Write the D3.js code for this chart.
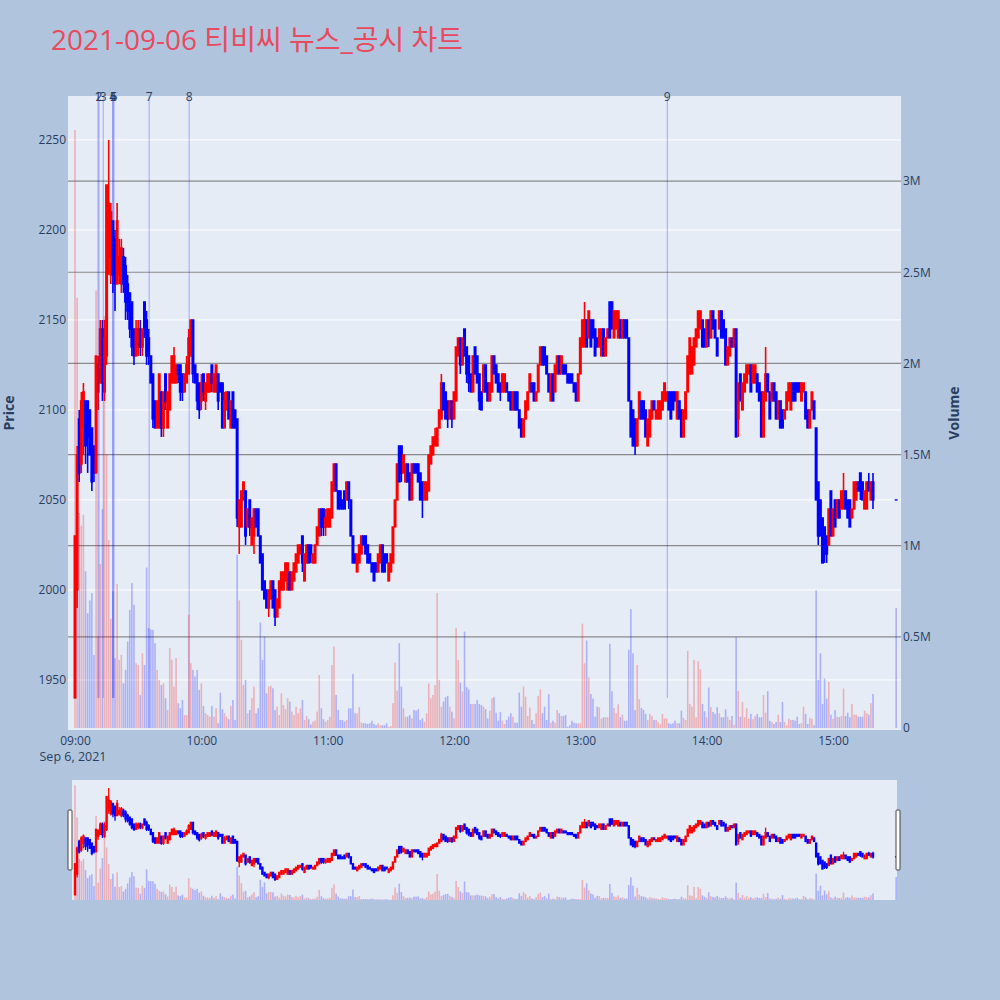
<!DOCTYPE html>
<html lang="ko">
<head>
<meta charset="UTF-8">
<title>티비씨 뉴스_공시 차트</title>
<script src="https://cdn.jsdelivr.net/npm/d3@7"></script>
<style>
  body { margin: 0; background: #b0c4de; }
  svg text { font-family: "Open Sans", "Noto Sans CJK KR", sans-serif; }
</style>
</head>
<body>
<div id="chart"></div>
<script>
// one-minute candles from 09:00 to 15:19, price in won
const opens = [
1940,2000,2095,2070,2090,2105,2105,2100,2090,2080,
2065,2110,2115,2145,2110,2130,2185,2175,2205,2195,
2170,2175,2170,2185,2180,2170,2165,2160,2145,2130,
2135,2145,2135,2160,2150,2140,2130,2120,2105,2090,
2090,2110,2090,2120,2090,2100,2115,2115,2115,2125,
2125,2120,2110,2115,2120,2130,2150,2125,2120,2115,
2105,2120,2105,2110,2110,2125,2110,2110,2120,2115,
2115,2090,2100,2110,2090,2110,2100,2095,2035,2035,
2050,2055,2035,2050,2025,2030,2045,2045,2030,2020,
2005,2000,1990,1995,2005,2000,1985,1990,2000,2000,
2005,2000,2010,2000,2005,2010,2015,2020,2030,2005,
2015,2025,2025,2015,2015,2025,2030,2045,2045,2035,
2035,2035,2040,2055,2070,2055,2055,2050,2055,2050,
2060,2050,2030,2020,2010,2015,2020,2030,2030,2025,
2020,2015,2015,2015,2010,2015,2025,2020,2020,2005,
2010,2015,2035,2050,2080,2080,2065,2060,2070,2065,
2050,2070,2070,2070,2065,2060,2050,2050,2055,2070,
2075,2080,2080,2090,2095,2115,2110,2105,2095,2105,
2095,2105,2130,2140,2125,2145,2135,2130,2120,2110,
2135,2130,2120,2110,2110,2125,2115,2105,2110,2130,
2125,2120,2115,2110,2110,2115,2110,2110,2100,2110,
2110,2100,2095,2085,2095,2100,2110,2115,2115,2105,
2110,2125,2135,2135,2130,2120,2105,2120,2110,2120,
2130,2120,2125,2125,2120,2120,2120,2115,2115,2105,
2120,2135,2135,2150,2140,2150,2150,2145,2140,2135,
2130,2145,2130,2140,2160,2160,2140,2145,2140,2150,
2140,2150,2150,2140,2105,2100,2095,2080,2095,2105,
2105,2100,2080,2085,2095,2105,2095,2095,2095,2100,
2105,2105,2110,2110,2110,2110,2095,2105,2100,2085,
2095,2110,2120,2120,2125,2135,2140,2145,2150,2145,
2135,2150,2140,2155,2150,2140,2145,2155,2150,2145,
2125,2130,2140,2135,2145,2095,2120,2100,2110,2115,
2120,2125,2115,2115,2120,2115,2110,2085,2105,2120,
2110,2105,2115,2110,2095,2105,2100,2095,2100,2105,
2100,2115,2115,2115,2115,2105,2110,2110,2100,2090,
2100,2105,2090,2060,2050,2040,2035,2030,2025,2055,
2030,2050,2040,2050,2045,2045,2055,2050,2050,2040,
2045,2050,2060,2065,2060,2045,2045,2060,2050,2060];
const highs = [
2030,2080,2100,2110,2115,2105,2105,2100,2090,2080,
2130,2130,2150,2150,2150,2225,2250,2215,2205,2200,
2215,2195,2195,2190,2185,2175,2165,2160,2145,2150,
2150,2150,2145,2160,2155,2145,2130,2120,2105,2105,
2120,2110,2110,2120,2110,2120,2130,2135,2125,2125,
2125,2120,2120,2130,2145,2150,2150,2125,2120,2115,
2120,2120,2115,2120,2120,2125,2120,2125,2120,2115,
2115,2110,2110,2110,2105,2110,2100,2095,2050,2055,
2060,2055,2045,2050,2040,2045,2045,2045,2030,2020,
2005,2000,2000,2005,2005,2000,1995,2005,2010,2010,
2015,2015,2010,2010,2015,2020,2025,2025,2030,2020,
2025,2025,2025,2020,2025,2035,2045,2045,2045,2045,
2045,2045,2060,2070,2070,2055,2055,2050,2055,2060,
2060,2050,2030,2020,2020,2025,2030,2030,2030,2025,
2020,2015,2015,2015,2020,2025,2025,2020,2020,2015,
2020,2035,2050,2070,2080,2080,2075,2070,2070,2065,
2070,2070,2070,2070,2065,2060,2060,2060,2075,2080,
2085,2090,2090,2100,2120,2115,2110,2105,2105,2105,
2110,2135,2140,2140,2140,2145,2135,2130,2120,2130,
2135,2130,2120,2110,2125,2125,2115,2115,2130,2130,
2125,2120,2115,2120,2120,2115,2110,2110,2110,2110,
2110,2100,2095,2095,2105,2110,2120,2115,2115,2110,
2125,2135,2135,2135,2130,2120,2120,2120,2125,2130,
2130,2130,2125,2125,2120,2120,2120,2115,2115,2120,
2140,2150,2160,2150,2155,2150,2150,2145,2140,2145,
2145,2145,2140,2145,2160,2160,2155,2155,2155,2150,
2150,2150,2150,2140,2105,2100,2095,2095,2110,2105,
2105,2100,2095,2100,2105,2105,2100,2105,2105,2110,
2115,2110,2110,2110,2110,2110,2110,2105,2100,2100,
2110,2130,2140,2135,2140,2145,2155,2155,2150,2145,
2150,2150,2155,2155,2150,2140,2155,2155,2150,2145,
2135,2140,2140,2145,2145,2115,2120,2115,2120,2125,
2125,2125,2125,2125,2120,2115,2110,2110,2135,2120,
2110,2115,2115,2110,2105,2105,2100,2100,2110,2115,
2115,2115,2115,2115,2115,2115,2115,2110,2100,2100,
2110,2105,2090,2060,2050,2040,2035,2030,2045,2055,
2045,2050,2050,2050,2055,2065,2055,2050,2050,2045,
2060,2060,2060,2065,2060,2055,2060,2065,2060,2065];
const lows = [
1940,1990,2060,2065,2075,2070,2065,2075,2055,2060,
2065,2100,2115,2105,2105,2125,2175,2170,2165,2155,
2170,2170,2165,2165,2150,2150,2140,2130,2125,2130,
2130,2130,2130,2140,2125,2125,2115,2090,2090,2090,
2090,2085,2085,2100,2090,2100,2115,2115,2115,2115,
2105,2105,2110,2115,2120,2130,2115,2115,2100,2095,
2100,2105,2100,2110,2110,2110,2110,2110,2100,2110,
2090,2090,2100,2095,2090,2090,2090,2035,2020,2035,
2050,2025,2035,2030,2025,2020,2035,2030,2015,2000,
1995,1990,1985,1995,1990,1980,1985,1990,2000,2000,
2005,2000,2000,2000,2005,2010,2015,2020,2010,2005,
2015,2015,2015,2015,2015,2025,2030,2030,2030,2030,
2035,2035,2040,2055,2055,2045,2045,2045,2045,2050,
2045,2030,2015,2015,2010,2015,2020,2025,2020,2015,
2015,2010,2005,2010,2010,2015,2010,2010,2015,2005,
2010,2015,2035,2050,2060,2060,2065,2060,2060,2050,
2050,2065,2065,2060,2050,2040,2050,2050,2055,2070,
2075,2080,2080,2090,2095,2100,2095,2090,2095,2090,
2095,2105,2130,2120,2125,2130,2115,2110,2110,2110,
2120,2115,2100,2100,2110,2110,2105,2105,2110,2120,
2115,2110,2105,2110,2110,2110,2105,2100,2100,2100,
2100,2090,2085,2085,2095,2100,2110,2110,2105,2105,
2110,2125,2125,2125,2120,2110,2105,2105,2110,2120,
2120,2120,2120,2120,2115,2115,2115,2110,2105,2105,
2120,2135,2135,2135,2140,2135,2140,2130,2135,2135,
2130,2130,2130,2140,2140,2145,2140,2145,2140,2140,
2140,2140,2140,2105,2085,2080,2075,2080,2095,2095,
2095,2085,2080,2085,2095,2100,2095,2095,2095,2100,
2105,2105,2100,2095,2100,2105,2095,2095,2085,2085,
2095,2110,2120,2120,2125,2135,2140,2145,2135,2135,
2135,2135,2140,2145,2140,2130,2145,2140,2140,2125,
2125,2130,2135,2135,2085,2085,2105,2100,2110,2115,
2120,2110,2115,2115,2110,2105,2085,2085,2105,2110,
2095,2105,2105,2095,2095,2090,2090,2095,2100,2105,
2100,2105,2105,2110,2110,2105,2110,2095,2090,2090,
2100,2095,2050,2025,2030,2015,2015,2015,2025,2030,
2030,2035,2040,2040,2045,2045,2045,2040,2035,2040,
2045,2050,2055,2050,2050,2045,2045,2055,2050,2045];
const closes = [
2030,2075,2065,2105,2110,2080,2085,2075,2060,2065,
2130,2125,2145,2115,2140,2225,2215,2210,2175,2170,
2205,2185,2190,2170,2160,2155,2145,2135,2130,2145,
2145,2135,2145,2145,2130,2130,2115,2095,2090,2105,
2120,2090,2110,2105,2110,2120,2130,2130,2125,2120,
2110,2110,2120,2125,2140,2150,2120,2115,2105,2100,
2115,2110,2115,2120,2120,2115,2120,2125,2105,2110,
2090,2105,2110,2095,2105,2090,2090,2040,2050,2055,
2060,2030,2045,2035,2040,2045,2035,2030,2015,2000,
1995,1990,2000,2005,1990,1985,1995,2005,2010,2010,
2015,2015,2000,2010,2015,2020,2025,2025,2015,2020,
2025,2015,2020,2020,2025,2035,2045,2035,2035,2040,
2045,2045,2060,2070,2055,2045,2045,2045,2045,2060,
2050,2030,2015,2015,2020,2025,2030,2025,2020,2015,
2015,2010,2005,2010,2020,2025,2010,2010,2015,2015,
2020,2035,2050,2070,2060,2065,2075,2070,2060,2050,
2070,2065,2065,2060,2050,2050,2060,2060,2075,2080,
2085,2085,2090,2100,2115,2100,2095,2095,2105,2095,
2110,2135,2140,2125,2140,2130,2120,2115,2110,2130,
2120,2115,2105,2100,2125,2110,2105,2115,2130,2120,
2115,2110,2110,2120,2120,2110,2105,2100,2110,2100,
2100,2090,2085,2095,2105,2110,2120,2110,2105,2110,
2125,2135,2125,2125,2120,2110,2120,2105,2125,2130,
2120,2130,2120,2120,2115,2115,2115,2110,2105,2120,
2140,2150,2150,2135,2155,2135,2140,2130,2135,2145,
2145,2130,2140,2145,2140,2145,2155,2155,2155,2140,
2150,2140,2140,2105,2085,2080,2080,2095,2110,2095,
2095,2085,2095,2100,2105,2100,2100,2105,2105,2110,
2115,2110,2100,2095,2100,2105,2110,2095,2085,2100,
2110,2130,2140,2135,2140,2145,2155,2155,2135,2135,
2150,2140,2155,2145,2140,2130,2155,2140,2140,2125,
2135,2140,2135,2145,2085,2115,2105,2115,2120,2125,
2125,2110,2125,2125,2110,2105,2085,2110,2120,2110,
2095,2115,2105,2095,2105,2090,2090,2100,2110,2115,
2115,2105,2105,2110,2110,2115,2115,2095,2090,2100,
2110,2095,2050,2030,2030,2015,2020,2020,2045,2030,
2045,2035,2050,2040,2055,2055,2045,2040,2035,2045,
2060,2060,2055,2055,2050,2055,2060,2055,2060,2050];
// traded volume per minute, thousands of shares
const volumes = [
3280,2360,1180,1110,1170,860,630,700,740,400,
2400,500,900,1200,2260,1500,1030,600,750,383,
790,374,401,245,319,474,648,795,676,355,
346,181,410,346,880,548,540,539,465,319,
264,236,245,163,99,438,374,227,383,136,
108,154,71,71,621,355,319,282,319,209,
245,121,81,71,62,121,62,108,26,194,
103,81,62,48,121,154,44,950,700,484,
236,264,81,99,163,227,81,108,579,374,
502,190,227,231,218,99,117,71,190,126,
103,163,145,90,70,117,81,108,154,44,
66,48,20,35,40,90,291,108,48,35,
44,62,346,447,181,99,44,44,35,44,
108,108,297,81,81,114,29,26,26,22,
26,40,22,15,26,15,15,15,26,7,
11,136,359,205,465,227,108,62,62,71,
53,99,95,103,44,53,35,81,245,163,
181,236,740,264,117,145,169,176,117,90,
53,548,374,249,200,529,224,212,132,132,
132,154,132,126,117,103,53,95,163,169,
84,40,88,40,22,44,62,81,62,29,
29,194,117,227,172,66,112,44,22,81,
176,212,81,117,44,185,29,40,29,99,
81,66,66,71,7,15,40,29,26,26,
26,572,355,480,278,187,161,62,117,114,
51,59,59,59,462,202,110,81,130,59,
73,40,40,429,652,410,99,346,158,110,
99,77,44,77,66,44,44,31,22,77,
53,53,26,22,26,40,26,26,95,55,
44,423,132,117,374,59,366,322,132,92,
59,222,114,88,77,114,81,59,59,103,
62,44,66,18,498,203,62,143,59,108,
51,77,48,66,77,59,59,181,84,202,
40,33,22,33,73,33,143,33,15,51,
44,44,40,62,22,26,117,77,22,55,
51,15,755,264,410,132,271,161,253,73,
51,99,62,59,66,216,66,84,59,132,
73,73,62,62,62,95,81,73,136,187];
// closing single-price auction
const closingTime = "15:30";
const closingPrice = 2050;
const closingVolume = 658;

// news / disclosure markers
const newsLabels = ["1", "2", "3", "4", "5", "6", "7", "8", "9"];
const newsTimes = ["09:10:54", "09:11:24", "09:13:24", "09:17:54", "09:18:06",
                   "09:18:30", "09:35:12", "09:54:12", "13:41:18"];
const newsToVolumeBase = [false, false, false, false, false, false, true, true, false];

const priceTicks = [1950, 2000, 2050, 2100, 2150, 2200, 2250];
const volumeTicks = [0, 500, 1000, 1500, 2000, 2500, 3000];
const volumeTickLabels = ["0", "0.5M", "1M", "1.5M", "2M", "2.5M", "3M"];

const chartTitle = "2021-09-06 티비씨 뉴스_공시 차트";

// ---------------------------------------------------------------
function at(hms) {
  const p = hms.split(":").map(Number);
  return new Date(2021, 8, 6, p[0], p[1], p[2] || 0);
}

const candles = opens.map(function(o, i) {
  return { t: new Date(2021, 8, 6, 9, i), o: o, h: highs[i], l: lows[i], c: closes[i], v: volumes[i] };
});
candles.push({ t: at(closingTime), o: closingPrice, h: closingPrice, l: closingPrice,
               c: closingPrice, v: closingVolume });

const red = "#ff0000", blue = "#0000ff";
const ink = "#2a3f5f";

const plot = { left: 68, right: 901, top: 96, bottom: 730 };
const slider = { left: 72, right: 897, top: 780, bottom: 900 };

const svg = d3.select("#chart").append("svg")
  .attr("width", 1000).attr("height", 1000)
  .style("display", "block");

svg.append("rect").attr("width", 1000).attr("height", 1000).attr("fill", "#b0c4de");

const x = d3.scaleTime()
  .domain([at("08:56:40"), at("15:32:18")])
  .range([plot.left, plot.right]);
const yPrice = d3.scaleLinear().domain([1922.2, 2274.4]).range([plot.bottom, plot.top]);
const yVol = d3.scaleLinear().domain([-11, 3467]).range([plot.bottom, plot.top]);

// title
svg.append("text")
  .attr("x", 51).attr("y", 50)
  .attr("font-size", 28)
  .attr("fill", "#e84a5f")
  .text(chartTitle);

// plot background
svg.append("rect")
  .attr("x", plot.left).attr("y", plot.top)
  .attr("width", plot.right - plot.left).attr("height", plot.bottom - plot.top)
  .attr("fill", "#e5ecf6");

svg.append("clipPath").attr("id", "plotClip").append("rect")
  .attr("x", plot.left).attr("y", plot.top)
  .attr("width", plot.right - plot.left).attr("height", plot.bottom - plot.top);

const main = svg.append("g").attr("clip-path", "url(#plotClip)");

// price grid (white) and volume grid (grey)
main.selectAll(".pgrid").data(priceTicks).enter().append("line")
  .attr("x1", plot.left).attr("x2", plot.right)
  .attr("y1", d => yPrice(d)).attr("y2", d => yPrice(d))
  .attr("stroke", "#ffffff").attr("stroke-width", 1);

main.selectAll(".vgrid").data(volumeTicks.slice(1)).enter().append("line")
  .attr("x1", plot.left).attr("x2", plot.right)
  .attr("y1", d => yVol(d)).attr("y2", d => yVol(d))
  .attr("stroke", "#808080").attr("stroke-opacity", 0.9).attr("stroke-width", 1.2);

// plotly-style: a candle counts as rising only when close > open
function upColor(d) { return d.c > d.o ? red : blue; }

function drawVolume(g, xs, ys, w) {
  g.selectAll(".vol").data(candles).enter().append("rect")
    .attr("x", d => xs(d.t) - w / 2)
    .attr("width", w)
    .attr("y", d => ys(d.v))
    .attr("height", d => Math.max(0, ys(0) - ys(d.v)))
    .attr("fill", upColor)
    .attr("fill-opacity", 0.25);
}

function drawCandles(g, xs, ys, bodyW, wickW) {
  const c = g.selectAll(".candle").data(candles).enter().append("g");
  c.append("line")
    .attr("x1", d => xs(d.t)).attr("x2", d => xs(d.t))
    .attr("y1", d => ys(d.h)).attr("y2", d => ys(d.l))
    .attr("stroke", upColor).attr("stroke-width", wickW);
  c.append("rect")
    .attr("x", d => xs(d.t) - bodyW / 2)
    .attr("width", bodyW)
    .attr("y", d => Math.min(ys(d.o), ys(d.c)) - 0.7)
    .attr("height", d => Math.abs(ys(d.o) - ys(d.c)) + 1.4)
    .attr("fill", upColor);
}

drawVolume(main, x, yVol, 1.6);
drawCandles(main, x, yPrice, 3, 1.6);

// news markers
const dayLow = d3.min(candles, d => d.l);
main.selectAll(".news").data(newsTimes).enter().append("line")
  .attr("x1", d => x(at(d))).attr("x2", d => x(at(d)))
  .attr("y1", plot.top)
  .attr("y2", (d, i) => newsToVolumeBase[i] ? yVol(0) : yPrice(dayLow))
  .attr("stroke", "#0000ff").attr("stroke-opacity", 0.3).attr("stroke-width", 1);

svg.selectAll(".newsLabel").data(newsTimes).enter().append("text")
  .attr("x", d => x(at(d))).attr("y", plot.top + 4.5)
  .attr("text-anchor", "middle")
  .attr("font-size", 12).attr("fill", ink)
  .text((d, i) => newsLabels[i]);

// axes
function styleAxis(g) {
  g.select(".domain").remove();
  g.selectAll(".tick line").remove();
  g.attr("font-family", null).attr("font-size", null);
  g.selectAll("text").attr("font-size", 12).attr("fill", ink);
}

svg.append("g")
  .attr("transform", "translate(0," + plot.bottom + ")")
  .call(d3.axisBottom(x).ticks(d3.timeHour.every(1))
    .tickFormat(d3.timeFormat("%H:%M")).tickSize(0).tickPadding(6))
  .call(styleAxis);

svg.append("text")
  .attr("x", x(at("09:00")) - 2).attr("y", 761)
  .attr("text-anchor", "middle").attr("font-size", 12.5).attr("fill", ink)
  .text("Sep 6, 2021");

svg.append("g")
  .attr("transform", "translate(" + plot.left + ",0)")
  .call(d3.axisLeft(yPrice).tickValues(priceTicks).tickFormat(d3.format("d"))
    .tickSize(0).tickPadding(2))
  .call(styleAxis);

svg.append("g")
  .attr("transform", "translate(" + plot.right + ",0)")
  .call(d3.axisRight(yVol).tickValues(volumeTicks)
    .tickFormat((d, i) => volumeTickLabels[i]).tickSize(0).tickPadding(2))
  .call(styleAxis);

svg.append("text")
  .attr("transform", "translate(14,413) rotate(-90)")
  .attr("text-anchor", "middle").attr("font-size", 14).attr("font-weight", "bold")
  .attr("fill", ink).text("Price");

svg.append("text")
  .attr("transform", "translate(959,413) rotate(-90)")
  .attr("text-anchor", "middle").attr("font-size", 14).attr("font-weight", "bold")
  .attr("fill", ink).text("Volume");

// range slider
svg.append("rect")
  .attr("x", slider.left).attr("y", slider.top)
  .attr("width", slider.right - slider.left).attr("height", slider.bottom - slider.top)
  .attr("fill", "#e5ecf6");

svg.append("clipPath").attr("id", "sliderClip").append("rect")
  .attr("x", slider.left).attr("y", slider.top)
  .attr("width", slider.right - slider.left).attr("height", slider.bottom - slider.top);

const ySlPrice = d3.scaleLinear().domain([1925, 2273]).range([slider.bottom, slider.top]);
const ySlVol = d3.scaleLinear().domain([0, 3430]).range([slider.bottom, slider.top]);

const mini = svg.append("g").attr("clip-path", "url(#sliderClip)");
drawVolume(mini, x, ySlVol, 1.6);
drawCandles(mini, x, ySlPrice, 2.4, 1.3);

[slider.left - 2, slider.right + 1].forEach(function(hx) {
  svg.append("rect")
    .attr("x", hx - 2).attr("y", 810)
    .attr("width", 4).attr("height", 60)
    .attr("rx", 1)
    .attr("fill", "#ffffff").attr("stroke", "#444").attr("stroke-width", 1);
});
</script>
</body>
</html>
